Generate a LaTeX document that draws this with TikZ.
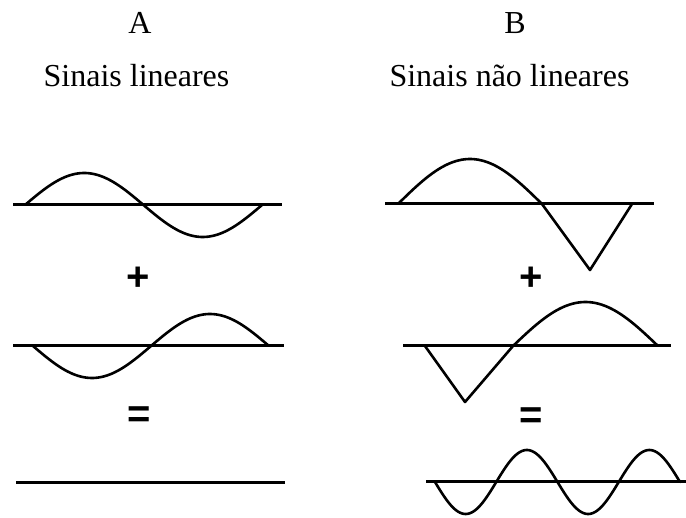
\documentclass[tikz,border=0pt]{standalone}
\usepackage{fontspec}
\setmainfont{Liberation Serif}
\newfontfamily\opfont{Liberation Sans}
\begin{document}
\begin{tikzpicture}[x=1pt,y=-1pt,
  title/.style={inner sep=0pt,anchor=base,font=\fontsize{32}{38}\selectfont},
  opsign/.style={inner sep=0pt,anchor=base,font=\opfont\bfseries\fontsize{40}{44}\selectfont},
  axis/.style={line width=3pt},
  wave/.style={line width=2.6pt,line join=round,line cap=round}]
\useasboundingbox (0,0) rectangle (686,518);
% titles
\node[title] (la) at (140,34) {A};
\node[title] (ta) at (136.5,87) {Sinais lineares};
\node[title] (lb) at (515,34) {B};
\node[title] (tb) at (509.5,87) {Sinais não lineares};
% operators
\node[opsign] (pa) at (138,291) {+};
\node[opsign] (pb) at (531,291) {+};
\node[opsign] (ea) at (139,428) {=};
\node[opsign] (eb) at (531,429) {=};
% Column A
\draw[axis] (13,205) -- (282,205);
\draw[wave] plot[domain=0:360,samples=90,variable=\t] ({25+\t/360*237},{205-32*sin(\t)});
\draw[axis] (13,346) -- (284,346);
\draw[wave] plot[domain=0:360,samples=90,variable=\t] ({33+\t/360*236},{346+32*sin(\t)});
\draw[axis] (16,483) -- (285,483);
% Column B
\draw[axis] (385,204) -- (654,204);
\draw[wave] plot[domain=0:180,samples=60,variable=\t] ({398+\t/180*144},{204-45*sin(\t)}) -- (590,270) -- (632,204);
\draw[axis] (403,346) -- (671,346);
\draw[wave] (425,346) -- (465,402) -- (513,346) plot[domain=0:180,samples=60,variable=\t] ({513+\t/180*145},{346-44*sin(\t)});
\draw[axis] (426,482) -- (686,482);
\draw[wave] plot[domain=0:720,samples=160,variable=\t] ({435+\t/720*245},{482+32*sin(\t)});
\end{tikzpicture}
\end{document}
